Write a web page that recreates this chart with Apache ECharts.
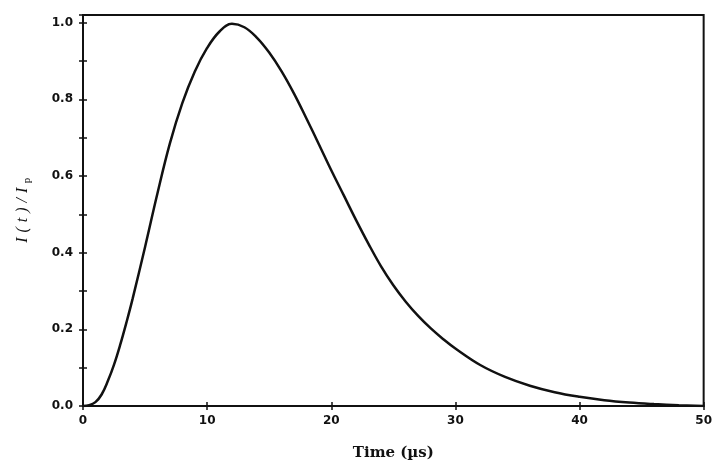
<!DOCTYPE html>
<html>
<head>
<meta charset="utf-8">
<script src="https://cdn.jsdelivr.net/npm/echarts@6/dist/echarts.min.js"></script>
<style>
  html, body { margin: 0; padding: 0; background: #fff; }
  #chart { width: 715px; height: 466px; }
</style>
</head>
<body>
<div id="chart"></div>
<script>
// 时间 (µs) 和归一化电流 I(t)/Ip
var timeUs = [0, 0.5, 1, 1.5, 2, 2.5, 3, 3.5, 4, 5, 6, 7, 8, 9, 10, 11, 12, 13, 14, 15,
  16, 17, 18, 19, 20, 21, 22, 23, 24, 25, 26, 27, 28, 29, 30, 32, 34, 36, 38, 40,
  42, 44, 46, 48, 50];
var currentRatio = [0, 0.002, 0.01, 0.03, 0.065, 0.108, 0.16, 0.218, 0.28, 0.415, 0.555, 0.685,
  0.79, 0.872, 0.934, 0.977, 0.997, 0.988, 0.961, 0.922, 0.873, 0.815, 0.75, 0.683, 0.615,
  0.55, 0.485, 0.423, 0.365, 0.315, 0.272, 0.235, 0.203, 0.175, 0.15, 0.107, 0.076, 0.053,
  0.036, 0.024, 0.015, 0.009, 0.005, 0.002, 0];
var xTicks = [0, 10, 20, 30, 40, 50];
var yTicks = [0, 0.2, 0.4, 0.6, 0.8, 1.0];

var chart = echarts.init(document.getElementById('chart'));
var ink = '#111';
var tickFont = { color: ink, fontFamily: 'DejaVu Sans', fontWeight: 'bold', fontSize: 12 };

var option = {
  animation: false,
  backgroundColor: '#fff',
  grid: {
    left: 83, right: 8, top: 15, bottom: 53,
    show: true, borderColor: ink, borderWidth: 2
  },
  xAxis: [
    {
      type: 'value', min: 0, max: 50, interval: 10, position: 'bottom',
      name: 'Time (µs)', nameLocation: 'middle', nameGap: 40,
      nameTextStyle: { color: ink, fontFamily: 'DejaVu Serif', fontWeight: 'bold', fontSize: 15 },
      axisLine: { lineStyle: { color: ink, width: 2 } },
      axisTick: { length: 4, lineStyle: { color: ink, width: 1.5 } },
      axisLabel: Object.assign({ margin: 9, formatter: function (v) {
        return xTicks.indexOf(v) >= 0 ? String(v) : '';
      } }, tickFont),
      splitLine: { show: false }
    },
    {
      // 内侧刻度，让刻度穿过坐标轴
      type: 'value', min: 0, max: 50, interval: 10, position: 'bottom',
      axisLine: { show: false },
      axisTick: { inside: true, length: 4, lineStyle: { color: ink, width: 1.5 } },
      axisLabel: { show: false },
      splitLine: { show: false }
    }
  ],
  yAxis: [
    {
      type: 'value', min: 0, max: 1.02, interval: 0.2, position: 'left',
      name: '{i|I}{n|(}{i|t}{n|)}{n|/}{i|I}{s|p}', nameLocation: 'middle', nameGap: 50,
      nameTextStyle: {
        rich: {
          i: { fontFamily: 'Liberation Serif', fontStyle: 'italic', fontSize: 16, color: ink, padding: [0, 2.5], lineHeight: 20 },
          n: { fontFamily: 'Liberation Serif', fontStyle: 'italic', fontSize: 16, color: ink, padding: [0, 2.5], lineHeight: 20 },
          s: { fontFamily: 'Liberation Serif', fontSize: 11, color: ink, padding: [0, 2], lineHeight: 20, verticalAlign: 'bottom' }
        }
      },
      axisLine: { lineStyle: { color: ink, width: 2 } },
      axisTick: { length: 4, lineStyle: { color: ink, width: 1.5 } },
      minorTick: { show: true, splitNumber: 2, length: 4, lineStyle: { color: ink, width: 1.5 } },
      axisLabel: Object.assign({ margin: 10, formatter: function (v) {
        for (var k = 0; k < yTicks.length; k++) {
          if (Math.abs(yTicks[k] - v) < 1e-6) return yTicks[k].toFixed(1);
        }
        return '';
      } }, tickFont),
      splitLine: { show: false }
    },
    {
      type: 'value', min: 0, max: 1.02, interval: 0.2, position: 'left',
      axisLine: { show: false },
      axisTick: { inside: true, length: 4, lineStyle: { color: ink, width: 1.5 } },
      minorTick: { show: true, splitNumber: 2, length: 4, lineStyle: { color: ink, width: 1.5 } },
      axisLabel: { show: false },
      splitLine: { show: false }
    }
  ],
  series: [
    {
      name: 'I(t)/Ip',
      type: 'line',
      xAxisIndex: 0,
      yAxisIndex: 0,
      smooth: 0.4,
      showSymbol: false,
      lineStyle: { color: ink, width: 2.5 },
      data: timeUs.map(function (t, i) { return [t, currentRatio[i]]; })
    }
  ]
};
chart.setOption(option);
</script>
</body>
</html>
